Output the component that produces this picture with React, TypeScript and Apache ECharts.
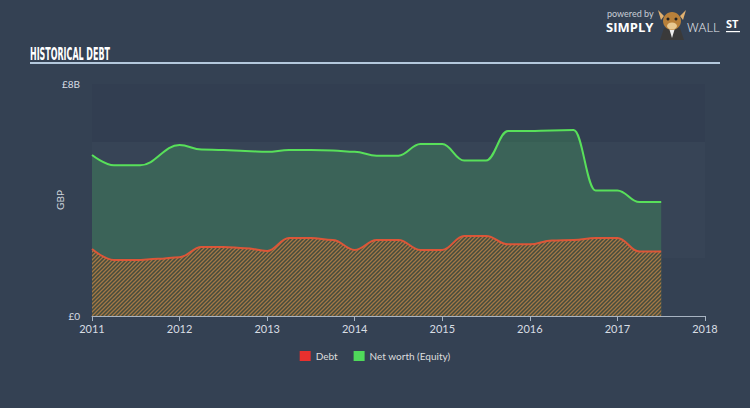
import React, { useEffect, useRef } from "react";
import * as echarts from "echarts";

const debtYears = [2011, 2011.25, 2011.5, 2011.75, 2012, 2012.25, 2012.5, 2012.75, 2013, 2013.25, 2013.5, 2013.75, 2014, 2014.25, 2014.5, 2014.75, 2015, 2015.25, 2015.5, 2015.75, 2016, 2016.25, 2016.5, 2016.75, 2017, 2017.25, 2017.5];
const debt = [2.31, 1.93, 1.93, 1.97, 2.03, 2.38, 2.38, 2.34, 2.24, 2.69, 2.69, 2.62, 2.28, 2.62, 2.62, 2.28, 2.28, 2.76, 2.76, 2.47, 2.47, 2.6, 2.62, 2.69, 2.69, 2.22, 2.22];
const netWorthYears = [2011, 2011.25, 2011.55, 2012, 2012.25, 2012.5, 2012.75, 2013, 2013.25, 2013.5, 2013.75, 2014, 2014.25, 2014.5, 2014.75, 2015, 2015.25, 2015.5, 2015.75, 2016, 2016.25, 2016.5, 2016.75, 2017, 2017.25, 2017.5];
const netWorth = [5.55, 5.2, 5.2, 5.9, 5.74, 5.72, 5.69, 5.66, 5.72, 5.72, 5.71, 5.66, 5.53, 5.53, 5.93, 5.93, 5.36, 5.36, 6.38, 6.38, 6.4, 6.41, 4.33, 4.33, 3.93, 3.93];
const xTicks = [2011, 2012, 2013, 2014, 2015, 2016, 2017, 2018];
const yLabels: Record<number, string> = { 0: "£0", 8: "£8B" };

function makeHatch() {
  const c = document.createElement("canvas");
  c.width = 4;
  c.height = 4;
  const ctx = c.getContext("2d")!;
  ctx.fillStyle = "#454c3e";
  ctx.fillRect(0, 0, 4, 4);
  ctx.strokeStyle = "#a47846";
  ctx.lineWidth = 1.3;
  ctx.beginPath();
  ctx.moveTo(-1, 5);
  ctx.lineTo(5, -1);
  ctx.moveTo(-1, 1);
  ctx.lineTo(1, -1);
  ctx.moveTo(3, 5);
  ctx.lineTo(5, 3);
  ctx.stroke();
  return c;
}

export default function App() {
  const ref = useRef<HTMLDivElement>(null);
  useEffect(() => {
    document.body.style.margin = "0";
    if (!ref.current) return;
    const chart = echarts.init(ref.current, null, { renderer: "svg" });
    const hatch = makeHatch();
    const font = "Lato, 'Open Sans', sans-serif";
    chart.setOption({
      animation: false,
      backgroundColor: "#344153",
      grid: { left: 92, right: 45, top: 84, bottom: 92 },
      legend: {
        left: "center",
        top: 346,
        icon: "rect",
        itemWidth: 11,
        itemHeight: 10,
        itemGap: 16,
        textStyle: { color: "#dddddd", fontSize: 10, fontFamily: font },
        data: [
          { name: "Debt", itemStyle: { color: "#e8302e" } },
          { name: "Net worth (Equity)", itemStyle: { color: "#4fd95a" } },
        ],
      },
      xAxis: {
        type: "value",
        min: 2011,
        max: 2018,
        interval: 1,
        axisLine: { show: true, lineStyle: { color: "#a8b4c2", width: 1 } },
        axisTick: { show: true, length: 5, lineStyle: { color: "#a8b4c2" } },
        splitLine: { show: false },
        axisLabel: {
          color: "#d8dde3",
          fontSize: 11,
          fontFamily: font,
          margin: 7,
          formatter: (v: number) => (xTicks.includes(v) ? String(v) : ""),
        },
      },
      yAxis: {
        type: "value",
        min: 0,
        max: 8,
        interval: 2,
        name: "GBP",
        nameLocation: "middle",
        nameGap: 27,
        nameMoveOverlap: false,
        nameTextStyle: { color: "#cfd5dc", fontSize: 10, fontFamily: font },
        axisLine: { show: false },
        axisTick: { show: false },
        splitLine: { show: false },
        splitArea: {
          show: true,
          areaStyle: {
            color: ["rgba(0,0,0,0)", "rgba(255,255,255,0.02)", "rgba(255,255,255,0.02)", "rgba(0,0,30,0.03)"],
          },
        },
        axisLabel: {
          color: "#d8dde3",
          fontSize: 10,
          fontFamily: font,
          margin: 12,
          formatter: (v: number) => yLabels[v] ?? "",
        },
      },
      series: [
        {
          name: "Net worth (Equity)",
          type: "line",
          data: netWorthYears.map((y, i) => [y, netWorth[i]]),
          smooth: 0.4,
          smoothMonotone: "x",
          symbol: "none",
          lineStyle: { color: "#58e05a", width: 2 },
          itemStyle: { color: "#58e05a" },
          areaStyle: { color: "rgba(72,190,96,0.25)", opacity: 1 },
          z: 2,
        },
        {
          name: "Debt",
          type: "line",
          data: debtYears.map((y, i) => [y, debt[i]]),
          smooth: 0.4,
          smoothMonotone: "x",
          symbol: "none",
          lineStyle: { color: "#dc5638", width: 2 },
          itemStyle: { color: "#dc5638" },
          areaStyle: { color: { image: hatch, repeat: "repeat" }, opacity: 1 },
          z: 3,
        },
      ],
      graphic: [
        {
          type: "text",
          left: 30,
          top: 45,
          scaleX: 0.52,
          style: {
            text: "HISTORICAL DEBT",
            fill: "#ffffff",
            font: "bold 17px 'Liberation Sans Narrow', 'DejaVu Sans Condensed', sans-serif",
          },
        },
        {
          type: "rect",
          shape: { x: 30, y: 62, width: 690, height: 2 },
          style: { fill: "#b4c8dc" },
        },
        {
          type: "text",
          x: 607,
          y: 9,
          style: { text: "powered by", fill: "#c8ced6", font: "9px " + font },
        },
        {
          type: "text",
          x: 606,
          y: 20,
          style: { text: "SIMPLY", fill: "#ffffff", font: "bold 13px 'Open Sans', sans-serif" },
        },
        {
          type: "group",
          x: 672,
          y: 24,
          children: [
            { type: "polygon", shape: { points: [[-14, -14], [-8, -8], [-11, -4]] }, style: { fill: "#e0b070" } },
            { type: "polygon", shape: { points: [[14, -14], [8, -8], [11, -4]] }, style: { fill: "#e0b070" } },
            { type: "polygon", shape: { points: [[-12, 16], [12, 16], [8, 4], [-8, 4]] }, style: { fill: "#3a3a3a" } },
            { type: "polygon", shape: { points: [[-3, 4], [3, 4], [0, 14]] }, style: { fill: "#eeeeee" } },
            { type: "ellipse", shape: { cx: 0, cy: -3, rx: 9, ry: 9 }, style: { fill: "#b8803a" } },
            { type: "ellipse", shape: { cx: 0, cy: 2, rx: 5, ry: 3.5 }, style: { fill: "#e8c890" } },
            { type: "circle", shape: { cx: -4, cy: -5, r: 1.5 }, style: { fill: "#222" } },
            { type: "circle", shape: { cx: 4, cy: -5, r: 1.5 }, style: { fill: "#222" } },
          ],
        },
        {
          type: "text",
          x: 687,
          y: 20,
          style: { text: "WALL", fill: "#e6e9ee", font: "300 13px 'Open Sans', sans-serif" },
        },
        {
          type: "text",
          x: 726,
          y: 18,
          style: { text: "ST", fill: "#ffffff", font: "bold 11px 'Open Sans', sans-serif" },
        },
        {
          type: "rect",
          shape: { x: 726, y: 31, width: 14, height: 1.2 },
          style: { fill: "#ffffff" },
        },
      ],
    });
    return () => chart.dispose();
  }, []);
  return <div ref={ref} style={{ width: 750, height: 408 }} />;
}
